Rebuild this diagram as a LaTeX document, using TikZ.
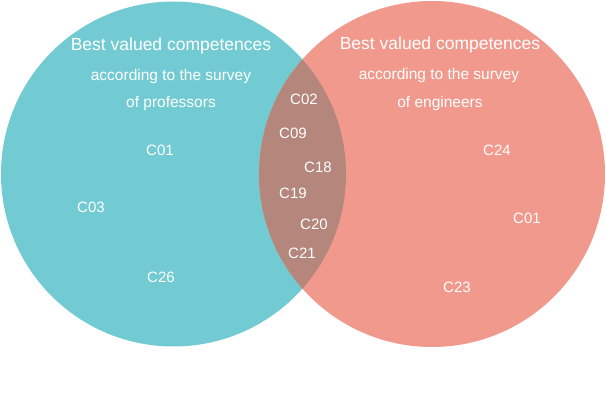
\documentclass[tikz,border=0pt]{standalone}
\usepackage{fontspec}
\setmainfont{Liberation Sans}
\usepackage{tikz}

\definecolor{profteal}{RGB}{114,203,210}
\definecolor{engsalmon}{RGB}{240,153,140}
\definecolor{bothbrown}{RGB}{181,134,123}

\tikzset{
    title/.style={text=white, font=\fontsize{17.5}{20}\selectfont, inner sep=0pt},
    subtitle/.style={text=white, font=\fontsize{15.5}{18}\selectfont, inner sep=0pt},
    comp/.style={text=white, font=\fontsize{15}{18}\selectfont, inner sep=0pt},
}

\begin{document}
\begin{tikzpicture}[x=1pt,y=-1pt]
    \useasboundingbox (0,0) rectangle (606,393);
    \coordinate (lc) at (173.5,174);
    \coordinate (rc) at (432,174);
    % the two sets
    \fill[profteal] (lc) circle[radius=172.5pt];
    \fill[engsalmon] (rc) circle[radius=173pt];
    % common part
    \begin{scope}
        \clip (lc) circle[radius=172.5pt];
        \fill[bothbrown] (rc) circle[radius=173pt];
    \end{scope}
    % left set: professors
    \node[title] (pt1) at (171,46) {Best valued competences};
    \node[subtitle] (pt2) at (171,76) {according to the survey};
    \node[subtitle] (pt3) at (171,104) {of professors};
    \node[comp] (p01) at (160,150) {C01};
    \node[comp] (p03) at (91,207) {C03};
    \node[comp] (p26) at (161,277) {C26};
    % right set: engineers
    \node[title] (et1) at (440,45) {Best valued competences};
    \node[subtitle] (et2) at (439,75) {according to the survey};
    \node[subtitle] (et3) at (440,103) {of engineers};
    \node[comp] (e24) at (497,150) {C24};
    \node[comp] (e01) at (527,218) {C01};
    \node[comp] (e23) at (457,287) {C23};
    % both
    \node[comp] (b02) at (304,99) {C02};
    \node[comp] (b09) at (293,133) {C09};
    \node[comp] (b18) at (318,167) {C18};
    \node[comp] (b19) at (293,193) {C19};
    \node[comp] (b20) at (314,224) {C20};
    \node[comp] (b21) at (302,253) {C21};
\end{tikzpicture}
\end{document}
